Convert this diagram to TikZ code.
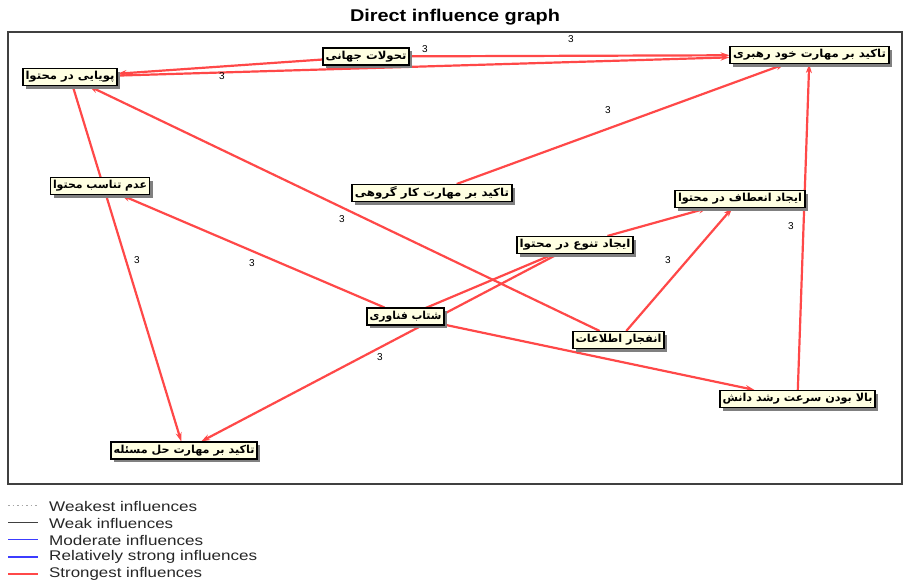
\documentclass[tikz,border=0pt]{standalone}
\usepackage{fontspec}
\usepackage{graphicx}
\setmainfont{Liberation Sans}
\newfontfamily\arabicfont[Script=Arabic]{DejaVu Sans}
\TeXXeTstate=1
\usetikzlibrary{arrows.meta,shadows,backgrounds}

\definecolor{edgered}{RGB}{255,72,72}
\definecolor{boxfill}{RGB}{255,255,226}
\definecolor{framegray}{RGB}{64,64,64}
\definecolor{legblue}{RGB}{60,60,255}

\newcommand\legtext[2]{\resizebox{#1pt}{\height}{#2}}

\begin{document}
\begin{tikzpicture}[x=1pt,y=-1pt,
  factor/.style={draw=black, line width=1.1pt, fill=boxfill, inner sep=0pt,
    minimum height=17pt,
    drop shadow={shadow xshift=3pt,shadow yshift=-3pt,fill=black!50,opacity=1},
    font=\fontsize{11}{12}\selectfont\arabicfont\bfseries},
  infl/.style={draw=edgered, line width=2.2pt, -{Stealth[length=9pt,width=6pt]}},
  wt/.style={font=\fontsize{10}{11}\selectfont, inner sep=0pt},
  legline/.style={line width=#1},
  legtxt/.style={anchor=west, inner sep=0pt, font=\fontsize{14}{15}\selectfont, text=black!85},
]
\useasboundingbox (0,0) rectangle (904,587);

% title
\node (title) at (455,17) {\legtext{210}{\fontsize{17}{19}\selectfont\bfseries Direct influence graph}};

% frame
\draw[framegray, line width=1.4pt] (8,32) rectangle (902,484);

% factors
\node[factor, minimum width=159pt] (K) at (809.5,55)  {\resizebox{153pt}{\height}{\beginR تاکید بر مهارت خود رهبری\endR}};
\node[factor, minimum width=86pt]  (T) at (366,56.5)  {\resizebox{81pt}{\height}{\beginR تحولات جهانی\endR}};
\node[factor, minimum width=94pt]  (P) at (70,77)     {\resizebox{89pt}{\height}{\beginR پویایی در محتوا\endR}};
\node[factor, minimum width=99pt]  (A) at (100,186)   {\resizebox{94pt}{\height}{\beginR عدم تناسب محتوا\endR}};
\node[factor, minimum width=160pt] (G) at (432,193)   {\resizebox{154pt}{\height}{\beginR تاکید بر مهارت کار گروهی\endR}};
\node[factor, minimum width=130pt] (E) at (740,199)   {\resizebox{124pt}{\height}{\beginR ایجاد انعطاف در محتوا\endR}};
\node[factor, minimum width=116pt] (V) at (575,245)   {\resizebox{111pt}{\height}{\beginR ایجاد تنوع در محتوا\endR}};
\node[factor, minimum width=77pt]  (S) at (405.5,316.5) {\resizebox{72pt}{\height}{\beginR شتاب فناوری\endR}};
\node[factor, minimum width=91pt]  (X) at (618.5,340) {\resizebox{86pt}{\height}{\beginR انفجار اطلاعات\endR}};
\node[factor, minimum width=155pt] (B) at (797.5,399) {\resizebox{150pt}{\height}{\beginR بالا بودن سرعت رشد دانش\endR}};
\node[factor, minimum width=146pt] (H) at (184,450.5) {\resizebox{141pt}{\height}{\beginR تاکید بر مهارت حل مسئله\endR}};

% influences
\begin{scope}[on background layer]
\draw[infl] (T) -- (K);
\draw[infl] (P) -- (K);
\draw[infl] (T) -- (P);
\draw[infl] (P) -- (H);
\draw[infl] (S) -- (A);
\draw[infl] (X) -- (P);
\draw[infl] (G) -- (K);
\draw[infl] (V) -- (E);
\draw[infl] (X) -- (E);
\draw[infl] (B) -- (K);
\draw[infl] (V) -- (H);
\draw[infl] (V) -- (S.center);
\draw[infl] (S) -- (B);
\end{scope}

% weights
\node[wt] (w1) at (425,49) {3};
\node[wt] (w2) at (571,39) {3};
\node[wt] (w3) at (222,76) {3};
\node[wt] (w4) at (137,260) {3};
\node[wt] (w5) at (252,263) {3};
\node[wt] (w6) at (342,219) {3};
\node[wt] (w7) at (608,110) {3};
\node[wt] (w8) at (668,260) {3};
\node[wt] (w9) at (791,226) {3};
\node[wt] (w10) at (380,357) {3};

% legend
\draw[legline=0.8pt, black!35, dash pattern=on 1.5pt off 3pt] (8,505) -- (38,505);
\draw[legline=0.8pt, black!75] (8,522) -- (38,522);
\draw[legline=0.8pt, legblue] (8,539.5) -- (38,539.5);
\draw[legline=2pt, legblue] (8,556.5) -- (38,556.5);
\draw[legline=2pt, edgered] (8,574) -- (38,574);
\node[legtxt] (lg1) at (49,506) {\legtext{148}{Weakest influences}};
\node[legtxt] (lg2) at (49,523) {\legtext{124}{Weak influences}};
\node[legtxt] (lg3) at (49,540) {\legtext{154}{Moderate influences}};
\node[legtxt] (lg4) at (49,557) {\legtext{208}{Relatively strong influences}};
\node[legtxt] (lg5) at (49,574) {\legtext{153}{Strongest influences}};
\end{tikzpicture}
\end{document}
